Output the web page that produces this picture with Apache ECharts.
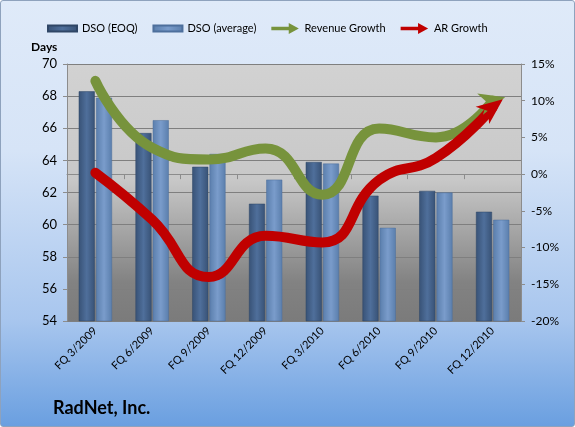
<!DOCTYPE html>
<html>
<head>
<meta charset="utf-8">
<script src="https://cdn.jsdelivr.net/npm/echarts@6/dist/echarts.min.js"></script>
<style>
  html, body { margin: 0; padding: 0; }
  #chart {
    width: 573px; height: 425px;
    border: 1px solid #8ea2bd;
    border-radius: 3px;
    background: linear-gradient(to bottom, #dfeaf9 0%, #d6e4f7 35%, #a8c6ee 75%, #6a9fe0 100%);
  }
</style>
</head>
<body>
<div id="chart"></div>
<script>
const categories = ['FQ 3/2009', 'FQ 6/2009', 'FQ 9/2009', 'FQ 12/2009', 'FQ 3/2010', 'FQ 6/2010', 'FQ 9/2010', 'FQ 12/2010']
const dsoEoq = [68.3, 65.7, 63.6, 61.3, 63.9, 61.8, 62.1, 60.8]
const dsoAverage = [67.9, 66.5, 64.4, 62.8, 63.8, 59.8, 62.0, 60.3]
const revenueGrowth = [12.7, 3.6, 2.0, 3.5, -2.8, 6.2, 5.0, 10.0]
const arGrowth = [0.2, -6.2, -14.0, -8.4, -9.3, -0.8, 2.2, 9.1]

const arrowIcon = 'path://M0,4 L19,4 L19,0 L30,6 L19,12 L19,8 L0,8 Z'
const arrowHead = 'path://M0,22 L10,0 L20,22 L10,16 Z'

const withArrow = (values, rotate) => values.map((v, i) => i === values.length - 1
  ? { value: v, symbol: arrowHead, symbolSize: [22, 26], symbolRotate: rotate }
  : v)

const barGradient = (edge, mid) => ({
  type: 'linear', x: 0, y: 0, x2: 1, y2: 0,
  colorStops: [
    { offset: 0, color: edge },
    { offset: 0.5, color: mid },
    { offset: 1, color: edge }
  ]
})

const chart = echarts.init(document.getElementById('chart'))
chart.setOption({
  animation: false,
  textStyle: { fontFamily: 'Lato', color: '#000' },
  legend: {
    top: 17,
    left: 41,
    itemGap: 15,
    itemWidth: 29,
    itemHeight: 11,
    textStyle: { fontSize: 11, color: '#000' },
    data: [
      { name: 'DSO (EOQ)', icon: 'path://M0,3 L30,3 L30,9 L0,9 Z' },
      { name: 'DSO (average)', icon: 'path://M0,3 L30,3 L30,9 L0,9 Z' },
      { name: 'Revenue Growth', icon: arrowIcon },
      { name: 'AR Growth', icon: arrowIcon }
    ]
  },
  grid: {
    left: 66, right: 53, top: 63, bottom: 105,
    show: true,
    borderWidth: 0,
    backgroundColor: {
      type: 'linear', x: 0, y: 0, x2: 0, y2: 1,
      colorStops: [
        { offset: 0, color: '#d2d2d2' },
        { offset: 0.45, color: '#c8c8c8' },
        { offset: 0.85, color: '#828282' },
        { offset: 1, color: '#7b7b7b' }
      ]
    }
  },
  graphic: [
    { type: 'text', left: 30, top: 40, style: { text: 'Days', font: 'bold 12px Lato', fill: '#000' } },
    { type: 'text', left: 52, top: 398, style: { text: 'RadNet, Inc.', font: 'bold 18px Lato', fill: '#000' } }
  ],
  xAxis: {
    type: 'category',
    data: categories,
    boundaryGap: true,
    axisLine: { lineStyle: { color: '#8c8c8c' } },
    axisTick: { show: true, length: 5, lineStyle: { color: '#8c8c8c' } },
    axisLabel: { rotate: 45, fontSize: 11, color: '#000', margin: 8 }
  },
  yAxis: [
    {
      type: 'value', min: 54, max: 70, interval: 2,
      axisLine: { show: true, lineStyle: { color: '#8c8c8c' } },
      axisTick: { show: true, length: 4, lineStyle: { color: '#8c8c8c' } },
      axisLabel: { fontSize: 13, color: '#000', margin: 10 },
      splitLine: { lineStyle: { color: '#7f7f7f', width: 1 } }
    },
    {
      type: 'value', min: -20, max: 15, interval: 5,
      axisLine: { show: true, lineStyle: { color: '#8c8c8c' } },
      axisTick: { show: true, length: 4, lineStyle: { color: '#8c8c8c' } },
      axisLabel: { fontSize: 12, color: '#000', margin: 10, formatter: '{value}%' },
      splitLine: { show: false }
    }
  ],
  series: [
    {
      name: 'DSO (EOQ)',
      type: 'bar',
      data: dsoEoq,
      barWidth: 16,
      barGap: '8%',
      itemStyle: { color: barGradient('#385276', '#4f6f9b'), borderColor: '#2f4666', borderWidth: 0.5 }
    },
    {
      name: 'DSO (average)',
      type: 'bar',
      data: dsoAverage,
      barWidth: 16,
      itemStyle: { color: barGradient('#5a7eac', '#7a9ccb'), borderColor: '#4d6f9c', borderWidth: 0.5 }
    },
    {
      name: 'Revenue Growth',
      type: 'line',
      yAxisIndex: 1,
      smooth: 0.5,
      symbol: 'circle',
      symbolSize: 0,
      data: withArrow(revenueGrowth, -75),
      lineStyle: { width: 10, color: '#77933c', cap: 'round' },
      itemStyle: { color: '#77933c' },
      emphasis: { disabled: true }
    },
    {
      name: 'AR Growth',
      type: 'line',
      yAxisIndex: 1,
      smooth: 0.5,
      symbol: 'circle',
      symbolSize: 0,
      data: withArrow(arGrowth, -52),
      lineStyle: { width: 10, color: '#c00000', cap: 'round' },
      itemStyle: { color: '#c00000' },
      emphasis: { disabled: true }
    }
  ]
})
</script>
</body>
</html>
